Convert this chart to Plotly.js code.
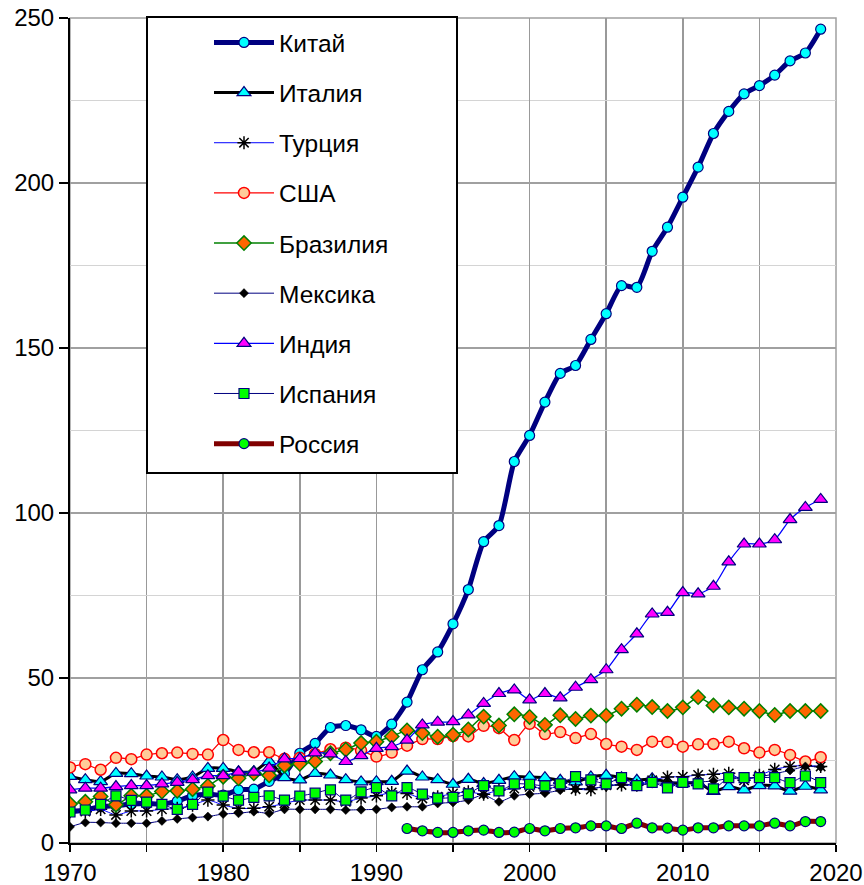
<!DOCTYPE html>
<html>
<head>
<meta charset="utf-8">
<script src="https://cdn.plot.ly/plotly-3.0.1.min.js"></script>
<style>html,body{margin:0;padding:0;background:#fff;}#chart{width:864px;height:885px;}</style>
</head>
<body>
<div id="chart"></div>
<script>
const years = [1970,1971,1972,1973,1974,1975,1976,1977,1978,1979,
  1980,1981,1982,1983,1984,1985,1986,1987,1988,1989,
  1990,1991,1992,1993,1994,1995,1996,1997,1998,1999,
  2000,2001,2002,2003,2004,2005,2006,2007,2008,2009,
  2010,2011,2012,2013,2014,2015,2016,2017,2018,2019];

const seriesNames = ["Китай","Италия","Турция","США","Бразилия","Мексика","Индия","Испания","Россия"];

const china = [9.5,10.0,11.0,11.3,11.8,12.0,11.8,12.7,14.3,14.8,
  14.5,16.1,16.3,18.7,21.0,27.2,30.2,35.0,35.6,34.3,
  32.3,36.0,42.7,52.5,57.9,66.4,76.8,91.3,96.2,115.6,
  123.5,133.6,142.3,144.7,152.6,160.4,168.9,168.4,179.3,186.6,
  195.7,204.8,215.0,221.7,227.0,229.5,232.7,237.0,239.4,246.6];

const italy = [20.2,19.2,18.6,21.1,21.0,20.3,20.0,19.2,20.0,22.6,
  22.6,21.6,21.6,24.7,19.8,19.1,21.1,20.6,19.2,18.5,
  18.6,18.7,21.8,20.0,19.2,17.8,19.3,18.0,19.0,20.1,
  20.0,19.8,19.0,18.5,20.0,20.5,19.8,19.0,19.5,18.5,
  18.0,18.3,15.6,17.1,16.1,17.4,17.3,15.7,17.2,16.1];

const turkey = [9.5,9.5,10.2,8.5,9.7,9.7,10.2,10.5,11.5,13.0,
  11.5,10.5,10.5,11.0,12.0,13.0,13.0,13.0,12.5,13.6,
  14.3,15.3,15.0,13.5,14.0,15.0,15.5,14.8,16.0,16.5,
  17.0,16.5,17.0,16.3,16.2,17.5,17.6,17.5,19.0,20.0,
  20.1,20.6,20.8,21.1,19.0,20.5,22.3,23.2,23.5,23.2];

const usa = [22.9,23.9,22.2,25.8,25.4,26.8,27.2,27.4,27.0,26.8,
  31.2,28.2,27.5,27.5,25.5,25.8,27.0,28.4,28.9,28.0,
  26.2,27.4,29.5,31.5,31.5,32.4,32.3,35.5,34.8,31.2,
  36.1,33.0,33.6,31.8,33.0,30.0,29.2,28.2,30.7,30.6,
  29.2,29.9,30.0,30.7,28.7,27.4,28.2,26.7,24.7,26.0];

const brazil = [11.8,12.5,14.1,11.6,14.3,14.3,15.6,15.8,16.3,17.3,
  20.1,19.6,21.1,20.5,23.5,24.0,24.7,27.2,28.3,30.3,
  30.7,32.3,34.1,33.3,32.2,32.8,34.4,38.3,35.6,39.0,
  38.2,35.8,38.7,37.6,38.6,38.6,40.7,41.9,41.2,40.0,
  41.1,44.2,41.7,41.1,40.7,40.0,38.8,40.0,40.0,40.0];

const mexico = [4.9,6.2,6.2,6.0,6.0,6.0,6.7,7.3,7.7,8.0,
  8.8,9.0,9.5,9.0,10.2,10.2,10.2,10.2,10.0,10.1,
  10.2,10.8,11.0,11.0,12.0,12.3,13.0,14.6,12.5,14.3,
  14.8,15.1,16.0,16.4,16.6,17.0,17.9,17.5,18.0,18.3,
  18.6,18.5,18.8,19.5,19.5,20.0,21.0,22.0,23.2,23.0];

const india = [16.1,16.6,16.6,17.1,17.4,17.4,17.9,18.4,19.2,20.4,
  20.4,21.5,21.5,22.7,25.5,25.6,27.3,27.0,24.7,26.5,
  28.7,29.2,31.2,35.8,36.6,36.8,38.8,42.3,45.3,46.4,
  43.4,45.3,44.0,47.2,49.5,52.5,58.6,63.4,69.4,69.9,
  75.9,75.5,77.8,85.2,90.6,90.6,91.9,98.0,101.7,104.1];

const spain = [9.4,10.0,11.7,14.3,12.9,12.4,11.7,10.2,11.7,15.4,
  14.2,13.0,13.8,14.3,13.0,14.2,15.1,16.1,13.0,15.5,
  16.8,14.3,16.8,14.8,13.6,13.8,14.9,17.4,15.8,17.9,
  17.8,17.3,17.9,20.1,19.1,17.9,19.8,17.4,18.4,16.7,
  18.4,17.9,16.4,19.8,19.8,19.8,19.8,18.3,20.3,18.3];

const russia = [null,null,null,null,null,null,null,null,null,null,
  null,null,null,null,null,null,null,null,null,null,
  null,null,4.4,3.7,3.2,3.2,3.7,3.9,3.2,3.3,
  4.4,3.7,4.4,4.6,5.2,5.2,4.4,6.0,4.6,4.5,
  3.9,4.6,4.6,5.2,5.2,5.2,6.0,5.2,6.5,6.5];

const yTickVals = [0,50,100,150,200,250];
const xTickVals = [1970,1980,1990,2000,2010,2020];

const dataArr = [china, italy, turkey, usa, brazil, mexico, india, spain, russia];
const styles = [
  {line:{color:'#000080',width:5}, marker:{symbol:'circle',size:10,color:'#00ffff',line:{color:'#000080',width:1.2}}},
  {line:{color:'#000000',width:3}, marker:{symbol:'triangle-up',size:12,color:'#00ffff',line:{color:'#000080',width:1.2}}},
  {line:{color:'#0000ff',width:1}, marker:{symbol:'asterisk-open',size:11,color:'#000000',line:{color:'#000000',width:1.5}}},
  {line:{color:'#ff0000',width:1.3}, marker:{symbol:'circle',size:11,color:'#ffcc99',line:{color:'#ff0000',width:1.5}}},
  {line:{color:'#008000',width:1.5}, marker:{symbol:'diamond',size:11,color:'#ff6600',line:{color:'#008000',width:1.5}}},
  {line:{color:'#000080',width:1}, marker:{symbol:'diamond',size:7,color:'#000000',line:{color:'#000000',width:0.5}}},
  {line:{color:'#0000ff',width:1.3}, marker:{symbol:'triangle-up',size:12,color:'#ff00ff',line:{color:'#000080',width:1.2}}},
  {line:{color:'#000080',width:1}, marker:{symbol:'square',size:10,color:'#00ff00',line:{color:'#000080',width:1.2}}},
  {line:{color:'#800000',width:5}, marker:{symbol:'circle',size:10,color:'#00ff00',line:{color:'#000080',width:1.2}}}
];

const traces = dataArr.map((vals, i) => ({
  type:'scatter', mode:'lines+markers', name: seriesNames[i],
  x: years, y: vals, legendgroup:'g'+i,
  connectgaps:false,
  line: Object.assign({shape:'spline', smoothing:0.6}, styles[i].line),
  marker: styles[i].marker
}));

const L = 70, R = 836, T = 18, B = 843;
const W = 864, H = 885;
const px2x = p => (p - L) / (R - L);
const px2y = p => (B - p) / (B - T);

const layout = {
  width: W, height: H,
  margin: {l: L, r: W - R, t: T, b: H - B, pad: 0},
  paper_bgcolor:'#ffffff', plot_bgcolor:'#ffffff',
  font: {family:'"Liberation Sans", Arial, sans-serif', size:24, color:'#000'},
  showlegend: true,
  xaxis: {
    range:[1970,2020], tickvals: xTickVals, ticktext: xTickVals.map(String),
    ticks:'outside', ticklen:7, tickwidth:1.5, tickcolor:'#000',
    showline:true, linecolor:'#000', linewidth:2,
    showgrid:true, gridcolor:'#999999', gridwidth:1.5,
    zeroline:false, fixedrange:true,
    tickfont:{size:24},
    minor:{dtick:5, tick0:1970, ticks:'outside', ticklen:7, tickwidth:1.5, tickcolor:'#000', showgrid:true, gridcolor:'#999999', gridwidth:1.5}
  },
  yaxis: {
    range:[0,250], tickvals: yTickVals, ticktext: yTickVals.map(String),
    ticks:'outside', ticklen:9, tickwidth:1.5, tickcolor:'#000',
    showline:true, linecolor:'#000', linewidth:2,
    showgrid:true, gridcolor:'#a0a0a0', gridwidth:1.5,
    zeroline:false, fixedrange:true,
    tickfont:{size:24},
    minor:{dtick:25, tick0:0, ticks:'', showgrid:true, gridcolor:'#d4d4d4', gridwidth:1.5}
  },
  shapes: [
    {type:'rect', xref:'paper', yref:'paper', x0:0, x1:1, y0:0, y1:1,
     line:{color:'#a0a0a0', width:1.5}, fillcolor:'rgba(0,0,0,0)', layer:'between'},
    {type:'rect', xref:'paper', yref:'paper',
     x0:px2x(147), x1:px2x(457), y0:px2y(473), y1:px2y(17),
     line:{color:'#000', width:2}, fillcolor:'#ffffff', layer:'above'}
  ],
  legend: {
    x: px2x(209), y: px2y(20), xanchor:'left', yanchor:'top',
    bgcolor:'rgba(0,0,0,0)', borderwidth:0,
    font:{size:24.5}, tracegroupgap:15.3, itemwidth:60,
    traceorder:'grouped'
  }
};

Plotly.newPlot('chart', traces, layout, {displayModeBar:false, staticPlot:true});
</script>
</body>
</html>
